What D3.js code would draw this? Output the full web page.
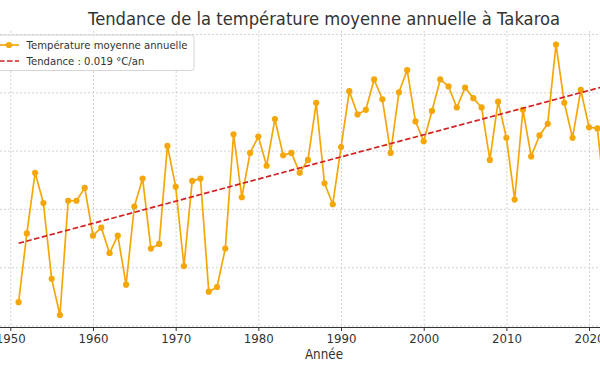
<!DOCTYPE html>
<html><head><meta charset="utf-8">
<script src="https://cdn.jsdelivr.net/npm/d3@7"></script>
<style>html,body{margin:0;padding:0;background:#fff;overflow:hidden}</style>
</head><body><svg id="chart" width="600" height="372"></svg>
<script>
const years = [1951,1952,1953,1954,1955,1956,1957,1958,1959,1960,1961,1962,1963,1964,1965,1966,1967,1968,1969,1970,1971,1972,1973,1974,1975,1976,1977,1978,1979,1980,1981,1982,1983,1984,1985,1986,1987,1988,1989,1990,1991,1992,1993,1994,1995,1996,1997,1998,1999,2000,2001,2002,2003,2004,2005,2006,2007,2008,2009,2010,2011,2012,2013,2014,2015,2016,2017,2018,2019,2020,2021,2022];
const temps = [25.20,25.79,26.31,26.05,25.40,25.09,26.07,26.07,26.18,25.77,25.84,25.62,25.77,25.35,26.02,26.26,25.66,25.70,26.54,26.19,25.51,26.24,26.26,25.29,25.33,25.66,26.64,26.10,26.48,26.62,26.37,26.77,26.46,26.48,26.31,26.42,26.91,26.22,26.04,26.53,27.01,26.81,26.85,27.11,26.94,26.48,27.00,27.19,26.75,26.58,26.84,27.11,27.05,26.87,27.04,26.95,26.87,26.42,26.92,26.61,26.08,26.85,26.45,26.63,26.73,27.41,26.91,26.61,27.02,26.70,26.69,26.03];
const trendYears = [1951, 2022];
const trendValues = [25.705, 27.054];
const xTicks = [1950,1960,1970,1980,1990,2000,2010,2020];
const yTicks = [25,25.5,26,26.5,27,27.5];
const titleText = "Tendance de la température moyenne annuelle à Takaroa";
const xLabel = "Année";
const legendLabels = ["Température moyenne annuelle", "Tendance : 0.019 °C/an"];

const FONT = "'DejaVu Sans', sans-serif";
const ORANGE = "#f5a70a", RED = "#d42020", TXT = "#333333";
const SY = 1.1; // vertical text stretch seen in the reference
const plotTop = 31, plotBottom = 327.5, plotLeft = -12, plotRight = 661;

const svg = d3.select("#chart");
svg.append("rect").attr("width",600).attr("height",372).attr("fill","#fff");

const x = d3.scaleLinear().domain([1947.3, 2028.7]).range([plotLeft, plotRight]);
const y = d3.scaleLinear().domain([25, 27.5]).range([325.5, 34]);

// grid
const gx = svg.append("g").attr("transform",`translate(0,${plotTop})`)
  .call(d3.axisTop(x).tickValues(xTicks).tickSize(-(plotBottom-plotTop)).tickFormat(""));
gx.select(".domain").remove();
gx.selectAll("line").attr("stroke","#c8c8c8").attr("stroke-width",0.8).attr("stroke-dasharray","2,2");

// horizontal grid (y tick labels lie outside the visible crop, as in the reference)
const gy = svg.append("g").attr("transform",`translate(${plotLeft},0)`)
  .call(d3.axisLeft(y).tickValues(yTicks).tickSize(-(plotRight-plotLeft)).tickFormat(""));
gy.select(".domain").remove();
gy.selectAll("line").attr("stroke","#c8c8c8").attr("stroke-width",0.8).attr("stroke-dasharray","2,2");

// bottom axis
const ax = svg.append("g").attr("transform",`translate(0,${plotBottom})`)
  .call(d3.axisBottom(x).tickValues(xTicks).tickSize(3.5).tickFormat(d3.format("d")));
ax.select(".domain").attr("stroke","#333").attr("stroke-width",1.1).attr("d",`M${plotLeft},0H${plotRight}`);
ax.selectAll(".tick line").attr("stroke","#333").attr("stroke-width",1);
ax.selectAll(".tick text").attr("font-family",FONT).attr("font-size",11.8).attr("fill",TXT)
  .attr("y",0).attr("dy",0).attr("transform",`translate(0,15.2) scale(1,${SY})`);

// axis label
svg.append("text").attr("transform",`translate(324,358.5) scale(1,${SY})`)
  .attr("text-anchor","middle").attr("font-family",FONT).attr("font-size",12).attr("fill",TXT).text(xLabel);

// title
svg.append("text").attr("transform",`translate(324,25) scale(1,${SY})`)
  .attr("text-anchor","middle").attr("font-family",FONT).attr("font-size",16.4).attr("fill",TXT).text(titleText);

// data line
const data = years.map((yr,i)=>({yr, v:temps[i]}));
svg.append("path").datum(data)
  .attr("fill","none").attr("stroke",ORANGE).attr("stroke-width",1.7).attr("stroke-linejoin","round")
  .attr("d", d3.line().x(d=>x(d.yr)).y(d=>y(d.v)));
svg.append("g").selectAll("circle").data(data).join("circle")
  .attr("cx",d=>x(d.yr)).attr("cy",d=>y(d.v)).attr("r",3.1).attr("fill",ORANGE);

// trend line
const trend = trendYears.map((yr,i)=>({yr, v:trendValues[i]}));
svg.append("path").datum(trend)
  .attr("fill","none").attr("stroke",RED).attr("stroke-width",1.7).attr("stroke-dasharray","5.5,2.5")
  .attr("d", d3.line().x(d=>x(d.yr)).y(d=>y(d.v)));

// legend
const lg = svg.append("g");
lg.append("rect").attr("x",-6).attr("y",35).attr("width",200).attr("height",35.5).attr("rx",2.5)
  .attr("fill","#fff").attr("fill-opacity",0.85).attr("stroke","#d0d0d0").attr("stroke-width",0.9);
lg.append("line").attr("x1",-1).attr("x2",19).attr("y1",45).attr("y2",45).attr("stroke",ORANGE).attr("stroke-width",1.7);
lg.append("circle").attr("cx",9).attr("cy",45).attr("r",3.1).attr("fill",ORANGE);
lg.append("line").attr("x1",-1).attr("x2",19).attr("y1",61).attr("y2",61).attr("stroke",RED).attr("stroke-width",1.7).attr("stroke-dasharray","5.5,2.5");
legendLabels.forEach((t,i)=>{
  lg.append("text").attr("transform",`translate(26.5,${49 + i*16}) scale(1,${SY})`)
    .attr("font-family",FONT).attr("font-size",10.1).attr("fill",TXT).text(t);
});
</script>
</body></html>
